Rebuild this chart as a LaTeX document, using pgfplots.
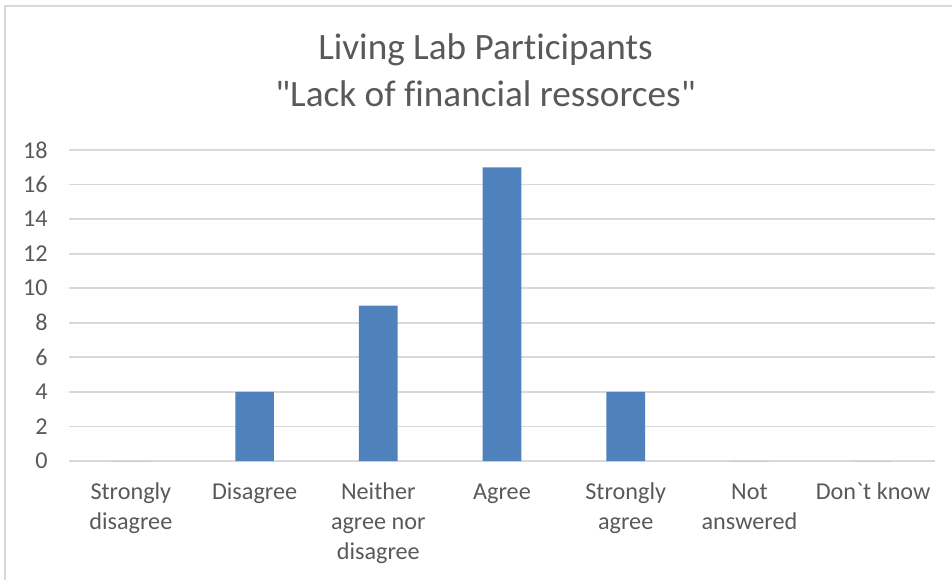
\documentclass[border=0pt]{standalone}
\usepackage{pgfplots}
\pgfplotsset{compat=1.18}
\usepackage{fontspec}
\setmainfont{Carlito}[Ligatures=NoCommon]
\newfontfamily\plainfont{Carlito}[Ligatures=NoCommon]
\definecolor{barblue}{HTML}{4F81BD}
\definecolor{txt}{HTML}{595959}
\definecolor{gridc}{HTML}{D9D9D9}
\begin{document}
\begin{tikzpicture}[x=1pt,y=1pt]
\useasboundingbox (0,0) rectangle (476,289.5);
\draw[gridc, line width=0.9pt] (2.6,-5) -- (2.6,286.5) -- (480,286.5);
\node[txt, anchor=base, font=\plainfont\fontsize{18.6}{24}\selectfont] at (242.75,259.5) {Living Lab Participants};
\node[txt, anchor=base, font=\plainfont\fontsize{18.6}{24}\selectfont] at (242.75,236) {"Lack of financial ressorces"};
\begin{axis}[
  at={(34.5pt,59pt)}, anchor=south west,
  width=433pt, height=155.5pt, scale only axis,
  xmin=-0.5, xmax=6.5, ymin=0, ymax=18,
  ytick={0,2,...,18}, xtick={0,...,6},
  xticklabels={{\strut Strongly\\disagree},{\strut Disagree},{\strut Neither\\agree nor\\disagree},{\strut Agree},{\strut Strongly\\agree},{\strut Not\\answered},{\strut\plainfont Don`t know}},
  xticklabel style={align=center, anchor=north, inner sep=0pt, yshift=-4.5pt, font=\fontsize{12.1}{15}\selectfont, text=txt},
  yticklabel style={font=\fontsize{12.1}{15}\selectfont, text=txt, inner sep=0pt, xshift=-10.5pt},
  /pgf/number format/assume math mode=true,
  ymajorgrids, grid style={gridc, line width=0.9pt},
  axis line style={draw=none}, tick style={draw=none},
  ybar, bar width=19.3pt,
]
\addplot[fill=barblue, draw=none] coordinates {(0,0) (1,4) (2,9) (3,17) (4,4) (5,0) (6,0)};
\end{axis}
\end{tikzpicture}
\end{document}
